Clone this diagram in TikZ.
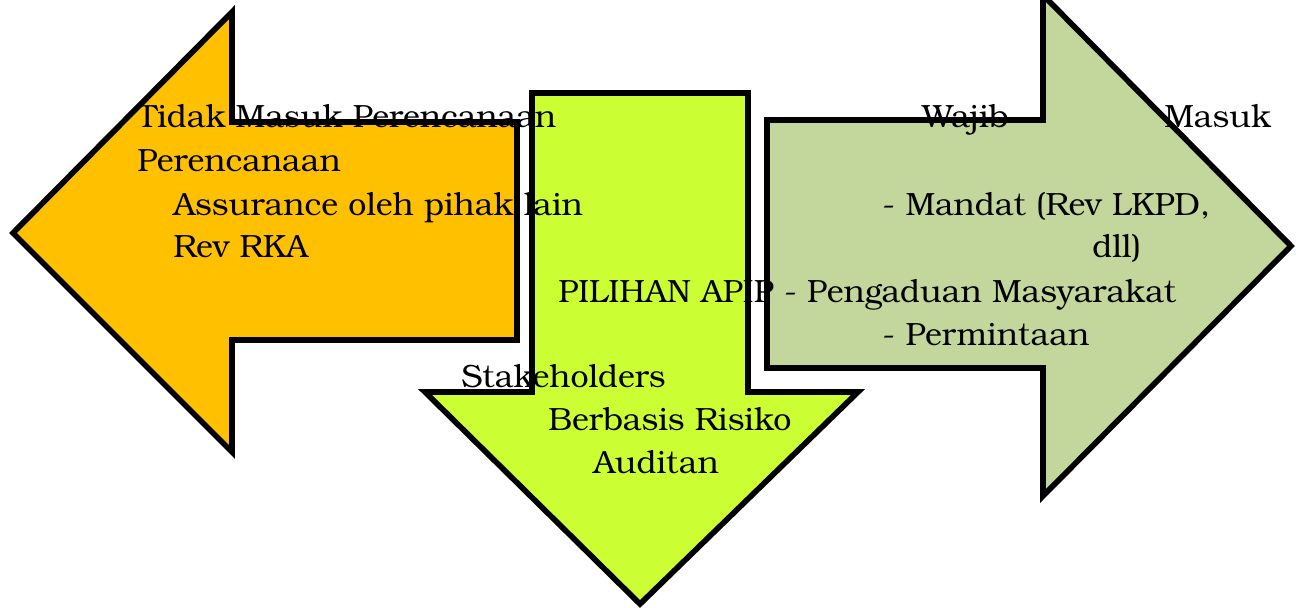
\documentclass[tikz,border=0pt]{standalone}
\usepackage{fontspec}
\setmainfont{TeX Gyre Bonum}
\usepackage{xcolor}
\usetikzlibrary{positioning}
\definecolor{leftorange}{HTML}{FFC000}
\definecolor{midlime}{HTML}{CCFF33}
\definecolor{rightolive}{HTML}{C3D69B}

\begin{document}
\begin{tikzpicture}[
    x=0.02cm, y=-0.02cm,
    blockarrow/.style={draw=black, line width=3.2pt, miter limit=10},
    txt/.style={anchor=base west, inner sep=0pt, font=\fontsize{18.3}{22}\selectfont}
]
\useasboundingbox (0,0) rectangle (1296,608);

% block arrows
\draw[blockarrow, fill=leftorange] (13,233) -- (232,12) -- (232,122) -- (517,122)
    -- (517,340) -- (232,340) -- (232,452) -- cycle;
\draw[blockarrow, fill=midlime] (532,93) -- (748,93) -- (748,392) -- (858,392)
    -- (640,604) -- (425,392) -- (532,392) -- cycle;
\draw[blockarrow, fill=rightolive] (767,120) -- (1043,120) -- (1043,-5) -- (1291,246)
    -- (1043,496) -- (1043,368) -- (767,368) -- cycle;

% texts
\node[txt] (tidak) at (137,128) {Tidak Masuk Perencanaan};
\node[txt] (perenc) at (137,172) {Perencanaan};
\node[txt] (assur) at (173,215) {Assurance oleh pihak lain};
\node[txt] (rka) at (173,257) {Rev RKA};

\node[txt] (wajib) at (922,128) {Wajib};
\node[txt] (masuk) at (1164,128) {Masuk};
\node[txt] (mandat) at (882,215) {- Mandat (Rev LKPD,};
\node[txt] (dll) at (1092,257) {dll)};
\node[txt] (pilihan) at (558,302) {PILIHAN APIP - Pengaduan Masyarakat};
\node[txt] (minta) at (882,345) {- Permintaan};

\node[txt] (stake) at (461,387) {Stakeholders};
\node[txt] (risiko) at (548,430) {Berbasis Risiko};
\node[txt] (auditan) at (593,473) {Auditan};

\end{tikzpicture}
\end{document}
